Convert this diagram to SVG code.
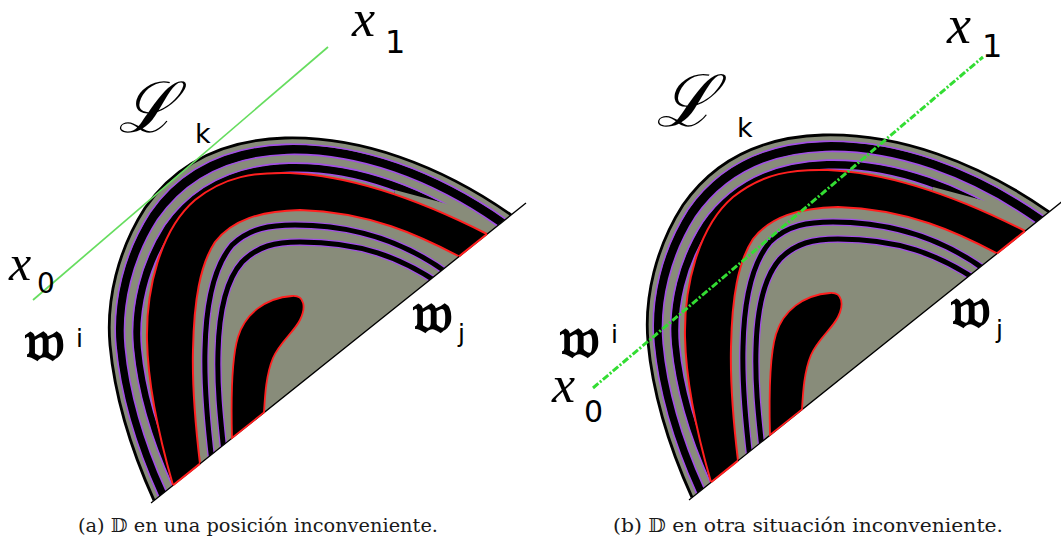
<svg xmlns="http://www.w3.org/2000/svg" xmlns:xlink="http://www.w3.org/1999/xlink" width="1061" height="544" viewBox="0 0 1061 544">
<defs>
<style>
.gray{fill:#888c7a}
.blk{fill:#000}
.pur{fill:none;stroke:#a24fe6;stroke-width:1.6}
.redl{fill:none;stroke:#ff1f1f;stroke-width:2}
.mi{font-family:"Liberation Serif",serif;font-style:italic;fill:#000}
.ss{font-family:"DejaVu Sans",sans-serif;fill:#000}
.fk{font-family:"DejaVu Serif","DejaVu Sans",serif;font-weight:bold;fill:#000}
.cap{font-family:"DejaVu Serif",serif;font-size:18px;fill:#1a1a1a}
</style>
<path id="outerC" vector-effect="non-scaling-stroke" d="M154,500.4 C138,465 116,410 110,345 C106,300 118,250 145,208 C175,165 220,140 285,138 C360,136 440,165 511,214.8"/>
<path id="outerZ" d="M154,500.4 C138,465 116,410 110,345 C106,300 118,250 145,208 C175,165 220,140 285,138 C360,136 440,165 511,214.8 Z"/>
<clipPath id="clip"><use xlink:href="#outerZ"/></clipPath>
<clipPath id="cut2"><polygon points="0,0 540,0 540,228 455,206 395,190 300,600 0,600"/></clipPath>
<g id="fig">
  <use xlink:href="#outerZ" class="gray"/>
  <use xlink:href="#outerZ" class="blk" transform="matrix(.970,0,0,.970,9.63,11.00)"/>
  <use xlink:href="#outerZ" class="gray" transform="matrix(.928,0,0,.928,23.11,26.41)"/>
  <g clip-path="url(#cut2)">
    <use xlink:href="#outerZ" class="blk" transform="matrix(.888,0,0,.888,35.95,41.08)"/>
    <use xlink:href="#outerZ" class="gray" transform="matrix(.850,0,0,.850,48.15,55.02)"/>
    <use xlink:href="#outerC" class="pur" transform="matrix(.890,0,0,.890,35.31,40.35)"/>
    <use xlink:href="#outerC" class="pur" transform="matrix(.850,0,0,.850,48.15,55.02)"/>
  </g>
  <use xlink:href="#outerC" class="pur" transform="matrix(.972,0,0,.972,8.99,10.27)"/>
  <use xlink:href="#outerC" class="pur" transform="matrix(.928,0,0,.928,23.11,26.41)"/>
  <path class="blk" d="M173,485.2 C160,440 148,390 147,340 C146,290 160,230 195,200 C225,176 255,172 290,173 C360,176 430,205 487,234 Z"/>
  <path class="gray" d="M200,463.6 C196,430 192,390 193,350 C194,300 200,265 215,242 C232,220 260,211 300,210 C370,212 420,236 459,256.4 Z"/>
  <path class="redl" d="M173,485.2 C160,440 148,390 147,340 C146,290 160,230 195,200 C225,176 255,172 290,173 C360,176 430,205 487,234"/>
  <path class="redl" d="M200,463.6 C196,430 192,390 193,350 C194,300 200,265 215,242 C232,220 260,211 300,210 C370,212 420,236 459,256.4"/>
  <g clip-path="url(#clip)" fill="none">
    <path stroke="#a24fe6" stroke-width="7.5" d="M212,462 C207,420 204,385 205,350 C206,300 215,265 232,245 C250,228 270,225 295,225 C360,225 410,245 450,275"/>
    <path stroke="#000" stroke-width="5" d="M212,462 C207,420 204,385 205,350 C206,300 215,265 232,245 C250,228 270,225 295,225 C360,225 410,245 450,275"/>
    <path stroke="#a24fe6" stroke-width="7.5" d="M224,452 C220,415 217,385 218,352 C219,310 226,280 242,262 C258,246 275,242 300,242 C360,242 400,257 440,284"/>
    <path stroke="#000" stroke-width="5" d="M224,452 C220,415 217,385 218,352 C219,310 226,280 242,262 C258,246 275,242 300,242 C360,242 400,257 440,284"/>
  </g>
  <use xlink:href="#outerC" fill="none" stroke="#000" stroke-width="2.8"/>
  <line x1="151" y1="503" x2="526" y2="203" stroke="#000" stroke-width="1.3"/>
  <path fill="none" stroke="#ff1f1f" stroke-width="2" d="M173,485.2 L200,463.6 M459,256.4 L487,234"/>
  <path class="blk" stroke="#ff1f1f" stroke-width="1.8" d="M232,438 C231,400 231,360 238,337 C245,314 265,298 292,296 C305,295 306,308 300,320 C294,332 280,342 273,358 C266,375 265,395 264,412.4 Z"/>
</g>
</defs>

<g id="figure-a">
  <use xlink:href="#fig"/>
  <line x1="33" y1="300" x2="328" y2="47" stroke="#66dd5f" stroke-width="1.7"/>
  <text class="mi" x="352" y="36" font-size="52">x</text>
  <text class="ss" x="385" y="53" font-size="32">1</text>
  <text class="mi" x="118" y="132" font-size="70">ℒ</text>
  <text class="ss" x="195" y="143" font-size="27">k</text>
  <text class="mi" x="9" y="280" font-size="50">x</text>
  <text class="ss" x="37" y="293" font-size="28">0</text>
  <text class="fk" x="25" y="360" font-size="58">𝔴</text>
  <text class="ss" x="76" y="347" font-size="25">i</text>
  <text class="fk" x="413" y="332" font-size="58">𝔴</text>
  <text class="ss" x="458" y="342" font-size="25">j</text>
  <text class="cap" x="78" y="532" textLength="360" lengthAdjust="spacingAndGlyphs">(a) 𝔻 en una posición inconveniente.</text>
</g>

<g id="figure-b">
  <use xlink:href="#fig" transform="translate(538,-3)"/>
  <line x1="593" y1="388" x2="983" y2="57" stroke="#33dd33" stroke-width="3" stroke-dasharray="7,2,2,2"/>
  <text class="mi" x="947" y="43" font-size="54">x</text>
  <text class="ss" x="982" y="57" font-size="32">1</text>
  <text class="mi" x="656" y="126" font-size="72">ℒ</text>
  <text class="ss" x="737" y="137" font-size="27">k</text>
  <text class="mi" x="552" y="402" font-size="52">x</text>
  <text class="ss" x="584" y="422" font-size="30">0</text>
  <text class="fk" x="560" y="357" font-size="58">𝔴</text>
  <text class="ss" x="611" y="343" font-size="25">i</text>
  <text class="fk" x="951" y="327" font-size="58">𝔴</text>
  <text class="ss" x="996" y="338" font-size="25">j</text>
  <text class="cap" x="613" y="532" textLength="390" lengthAdjust="spacingAndGlyphs">(b) 𝔻 en otra situación inconveniente.</text>
</g>
</svg>
